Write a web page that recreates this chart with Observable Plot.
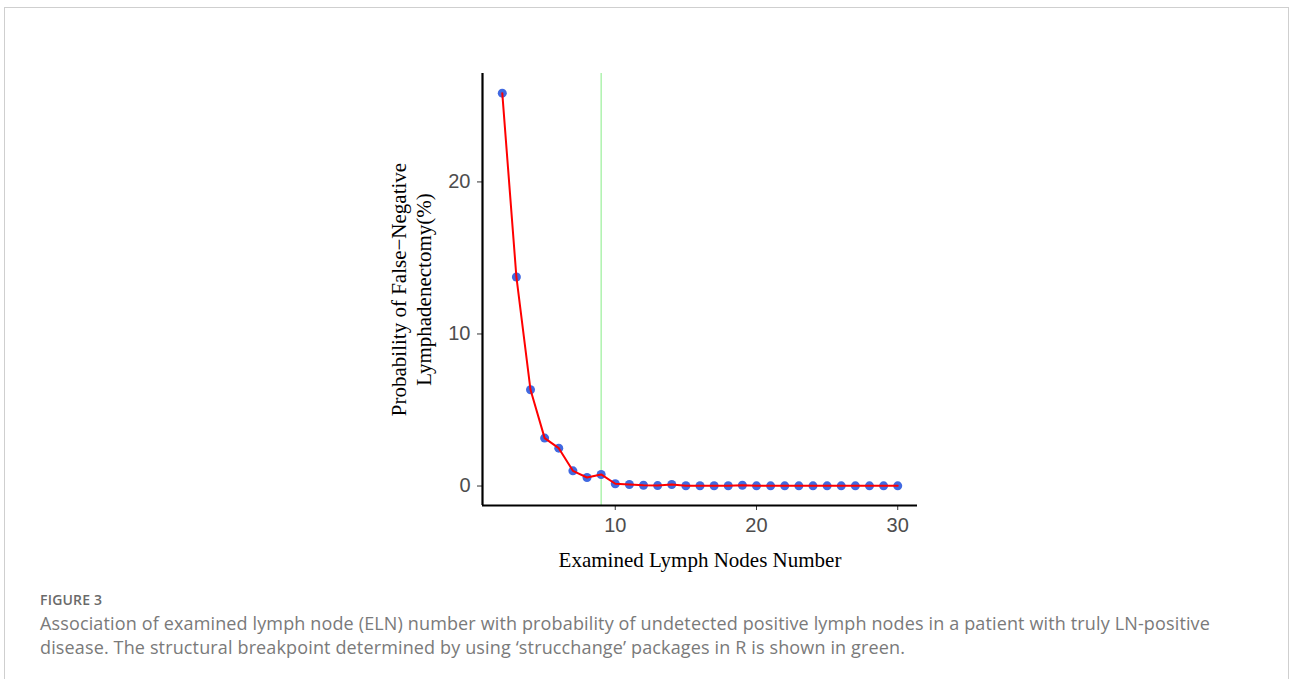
<!DOCTYPE html>
<html>
<head>
<meta charset="utf-8">
<script src="https://cdn.jsdelivr.net/npm/d3@7"></script>
<script src="https://cdn.jsdelivr.net/npm/@observablehq/plot@0.6"></script>
<style>
  html, body { margin: 0; padding: 0; background: #fff; }
  body { width: 1295px; height: 679px; position: relative; overflow: hidden; }
  #frame { position: absolute; left: 4px; top: 7px; width: 1285px; height: 720px; border: 1px solid #cfcfcf; box-sizing: border-box; }
  #chart { position: absolute; left: 0; top: 0; }
  #figlabel { position: absolute; left: 40px; top: 590px; font-family: "Open Sans", sans-serif; font-size: 14px; font-weight: 600; color: #6a6a6a; letter-spacing: 0.2px; }
  #caption { position: absolute; left: 40px; top: 611px; font-family: "Open Sans", sans-serif; font-size: 18px; line-height: 24px; color: #7a7a7a; white-space: nowrap; letter-spacing: 0.14px; }
</style>
</head>
<body>
<div id="frame"></div>
<div id="chart"></div>
<div id="figlabel">FIGURE 3</div>
<div id="caption">Association of examined lymph node (ELN) number with probability of undetected positive lymph nodes in a patient with truly LN-positive<br>disease. The structural breakpoint determined by using ‘strucchange’ packages in R is shown in green.</div>
<script>
// Data
const nodes = [2, 3, 4, 5, 6, 7, 8, 9, 10, 11, 12, 13, 14, 15, 16, 17, 18, 19, 20, 21, 22, 23, 24, 25, 26, 27, 28, 29, 30];
const probability = [25.84, 13.75, 6.33, 3.15, 2.49, 1.00, 0.56, 0.76, 0.15, 0.10, 0.05, 0.03, 0.10, 0.02, 0.02, 0.02, 0.02, 0.05, 0.01, 0.01, 0.01, 0.01, 0.01, 0.01, 0.01, 0.01, 0.01, 0.01, 0.01];
const breakpoint = [9];
const xTicks = [10, 20, 30];
const yTicks = [0, 10, 20];
const xTitle = "Examined Lymph Nodes Number";
const yTitle = "Probability of False\u2212Negative\nLymphadenectomy(%)";

const data = nodes.map((n, i) => ({n, p: probability[i]}));

// ggplot-like 5% expansion of the data range
function expand([a, b], f = 0.05) { const d = (b - a) * f; return [a - d, b + d]; }
const xDomain = expand(d3.extent(nodes));
const yDomain = expand(d3.extent(probability));

const serif = "'Liberation Serif', 'Times New Roman', serif";
const sans = "'Liberation Sans', Arial, sans-serif";

const chart = Plot.plot({
  width: 1295,
  height: 580,
  marginLeft: 482,
  marginRight: 378,
  marginTop: 73,
  marginBottom: 75,
  style: { background: "transparent", fontFamily: sans },
  x: { domain: xDomain },
  y: { domain: yDomain },
  marks: [
    Plot.ruleX(breakpoint, { stroke: "#90EE90", strokeWidth: 1.1 }),
    Plot.dot(data, { x: "n", y: "p", r: 4.5, fill: "#4169E1", stroke: "none" }),
    Plot.line(data, { x: "n", y: "p", stroke: "#FF0000", strokeWidth: 2 }),
    Plot.axisX({ ticks: xTicks, tickSize: 5, tickPadding: 7, label: null, stroke: "#333333", fill: "#4D4D4D", fontSize: 20, fontFamily: sans }),
    Plot.axisY({ ticks: yTicks, tickSize: 5, tickPadding: 7, label: null, stroke: "#333333", fill: "#4D4D4D", fontSize: 20, fontFamily: sans }),
    Plot.ruleX([xDomain[0]], { stroke: "#000", strokeWidth: 2.2 }),
    Plot.ruleY([yDomain[0]], { stroke: "#000", strokeWidth: 2.2 }),
    Plot.text([xTitle], { frameAnchor: "bottom", dy: 61, fontSize: 21, fontFamily: serif, fill: "#000" }),
    Plot.text([yTitle], { frameAnchor: "left", textAnchor: "middle", rotate: -90, dx: -72, fontSize: 21, fontFamily: serif, fill: "#000", lineHeight: 1.2 })
  ]
});
document.getElementById("chart").appendChild(chart);
</script>
</body>
</html>
